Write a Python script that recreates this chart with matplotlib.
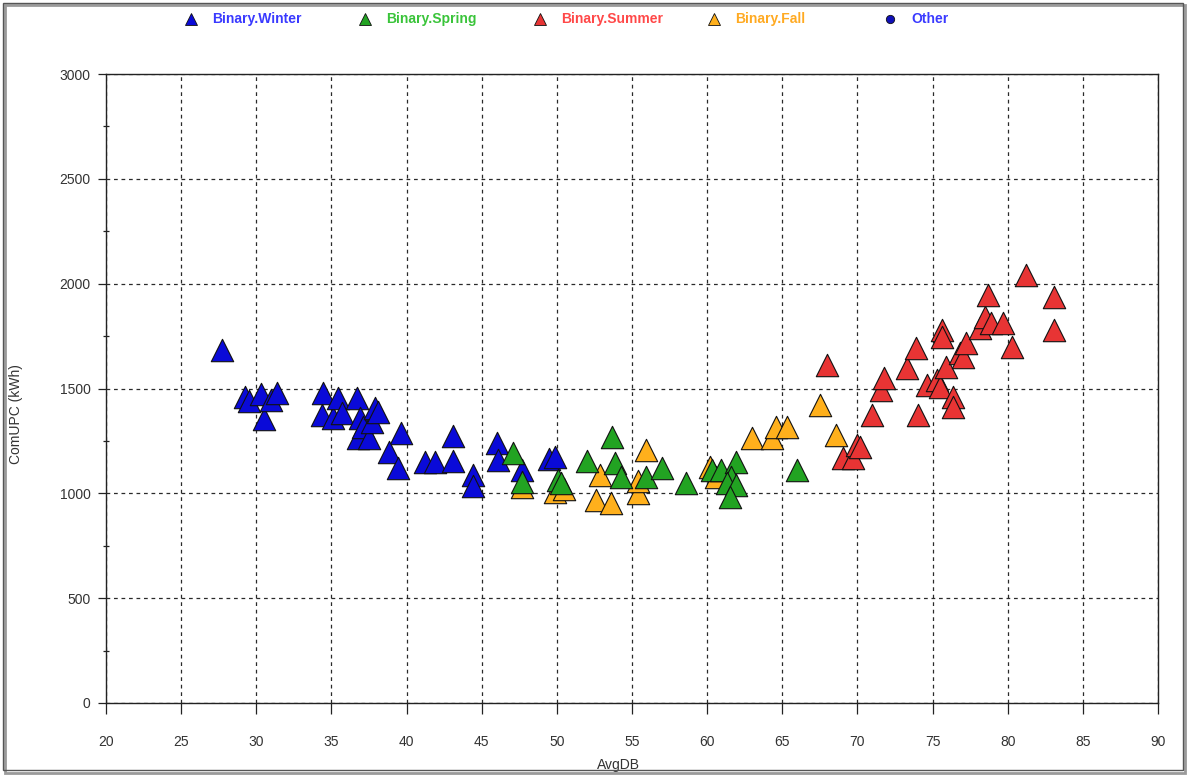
import matplotlib
matplotlib.use("Agg")
import matplotlib.pyplot as plt
from matplotlib.lines import Line2D
from matplotlib.patches import Rectangle
from matplotlib.ticker import MultipleLocator

plt.rcParams["font.family"] = ["Liberation Sans", "DejaVu Sans"]

# ---- data: average dry-bulb temperature vs. consumption, by season ----
winter_x = [27.7, 29.25, 29.5, 30.3, 30.5, 31.0, 31.4,
            34.45, 34.4, 35.1, 35.45, 35.7, 36.7, 36.9, 36.8, 37.1, 37.5,
            37.7, 37.9, 38.1, 39.6, 38.8, 39.4, 41.2, 41.9, 43.1, 43.1,
            44.4, 44.4, 46.0, 46.1, 47.7, 49.5, 49.9]
winter_y = [1685, 1459, 1440, 1473, 1354, 1445, 1478,
            1477, 1373, 1358, 1453, 1382, 1453, 1358, 1262, 1318, 1262,
            1341, 1405, 1389, 1286, 1198, 1121, 1149, 1149, 1273, 1154,
            1087, 1035, 1240, 1159, 1111, 1164, 1173]

fall_x = [47.7, 49.9, 50.5, 52.6, 52.9, 53.6, 55.4, 55.4, 55.9,
          60.2, 60.6, 63.0, 64.3, 64.6, 65.3, 67.5, 68.6]
fall_y = [1030, 1006, 1020, 968, 1087, 954, 1001, 1060, 1206,
          1127, 1079, 1264, 1264, 1316, 1316, 1421, 1278]

spring_x = [47.1, 47.7, 50.1, 50.3, 52.0, 53.7, 53.9, 54.3, 55.9, 57.0,
            58.6, 60.3, 60.95, 61.95, 61.6, 61.3, 61.95, 61.5, 66.0]
spring_y = [1192, 1054, 1063, 1049, 1154, 1268, 1144, 1078, 1078, 1121,
            1049, 1111, 1111, 1151, 1079, 1048, 1040, 984, 1111]

summer_x = [68.0, 69.05, 69.7, 70.0, 70.2, 71.0, 71.6, 71.8, 73.3, 73.9,
            74.0, 74.6, 75.3, 75.5, 75.6, 75.6, 75.9, 76.35, 76.35, 76.8,
            77.0, 77.2, 78.15, 78.5, 78.7, 78.9, 79.7, 80.3, 81.2, 83.1, 83.1]
summer_y = [1612, 1167, 1167, 1230, 1222, 1373, 1493, 1550, 1598, 1693,
            1373, 1516, 1540, 1508, 1779, 1747, 1604, 1461, 1413, 1669,
            1652, 1715, 1787, 1842, 1946, 1811, 1811, 1699, 2041, 1936, 1779]

series_names = ["Binary.Winter", "Binary.Spring", "Binary.Summer", "Binary.Fall", "Other"]
x_ticks = list(range(20, 91, 5))
y_ticks = list(range(0, 3001, 500))

# ---- styling ----
fill = {"Binary.Winter": "#0a0ad8", "Binary.Spring": "#22a322",
        "Binary.Summer": "#e83434", "Binary.Fall": "#ffb01c", "Other": "#1010b8"}
text_col = {"Binary.Winter": "#3a3aff", "Binary.Spring": "#3ac43a",
            "Binary.Summer": "#ff4848", "Binary.Fall": "#ffaa22", "Other": "#3a3aff"}

W, H = 1188, 777
fig = plt.figure(figsize=(W / 100, H / 100), dpi=100)
fig.patch.set_facecolor("white")


def fx(px):
    return px / W


def fy(py):
    return 1 - py / H


ax = fig.add_axes([fx(106), fy(703), (1158 - 106) / W, (703 - 74) / H])

marker_kw = dict(marker="^", s=260, edgecolors="#111111", linewidths=0.8, zorder=3)
ax.scatter(winter_x, winter_y, c=fill["Binary.Winter"], **marker_kw)
ax.scatter(fall_x, fall_y, c=fill["Binary.Fall"], **marker_kw)
ax.scatter(spring_x, spring_y, c=fill["Binary.Spring"], **marker_kw)
ax.scatter(summer_x, summer_y, c=fill["Binary.Summer"], **marker_kw)

ax.set_xlim(20, 90)
ax.set_ylim(0, 3000)
ax.set_xticks(x_ticks)
ax.set_yticks(y_ticks)
ax.yaxis.set_minor_locator(MultipleLocator(250))
ax.grid(True, which="major", linestyle=(0, (3, 3)), color="#2a2a2a", linewidth=0.9)
ax.set_axisbelow(True)

for sp in ax.spines.values():
    sp.set_color("#222222")
    sp.set_linewidth(1.0)

ax.tick_params(axis="x", which="major", direction="out", length=8, width=0.9,
               pad=15, labelsize=10, labelcolor="#333333", color="#222222")
ax.tick_params(axis="y", which="major", direction="out", length=6, width=0.9,
               pad=5, labelsize=10, labelcolor="#333333", color="#222222")
ax.tick_params(axis="y", which="minor", direction="inout", length=5, width=0.9,
               color="#222222")

ax.set_xlabel("AvgDB", fontsize=10, color="#333333")
ax.set_ylabel("ComUPC (kWh)", fontsize=10, color="#333333")
ax.xaxis.set_label_coords(0.487, -0.088)
ax.yaxis.set_label_coords(-0.079, 0.46)

# ---- legend row across the top ----
leg_marker_px = [191, 365, 540, 714, 890]
for name, mx in zip(series_names, leg_marker_px):
    if name == "Other":
        handle = Line2D([fx(mx)], [fy(19)], transform=fig.transFigure, marker="o",
                        markersize=6, markerfacecolor=fill[name],
                        markeredgecolor="#111111", markeredgewidth=0.6, linestyle="none")
    else:
        handle = Line2D([fx(mx)], [fy(19)], transform=fig.transFigure, marker="^",
                        markersize=8, markerfacecolor=fill[name],
                        markeredgecolor="#111111", markeredgewidth=0.6, linestyle="none")
    fig.add_artist(handle)
    fig.text(fx(mx + 21), fy(19), name, color=text_col[name], fontsize=10,
             fontweight="bold", ha="left", va="center")

# ---- outer frame with a soft shadow ----
fig.add_artist(Rectangle((fx(5), fy(773)), (1185 - 5) / W, (773 - 5) / H,
                         transform=fig.transFigure, facecolor="none",
                         edgecolor="#9a9a9a", linewidth=2.0, zorder=0))
fig.add_artist(Rectangle((fx(3), fy(770)), (1183 - 3) / W, (770 - 3) / H,
                         transform=fig.transFigure, facecolor="none",
                         edgecolor="#555555", linewidth=1.0, zorder=1))

fig.savefig("out.png", dpi=100)
